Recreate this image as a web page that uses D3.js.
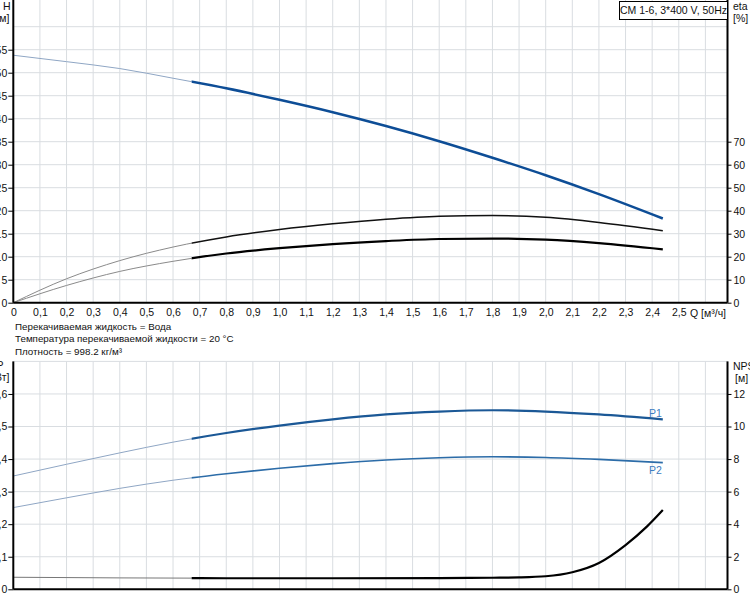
<!DOCTYPE html>
<html>
<head>
<meta charset="utf-8">
<script src="https://cdn.jsdelivr.net/npm/d3@7"></script>
<style>
body { margin: 0; background: #fff; }
svg { display: block; font-family: "Liberation Sans", Arial, sans-serif; }
.grid line { stroke: #d9dde1; stroke-width: 1; }
.ax path, .ax line { stroke: #000; }
.ax path { stroke-width: 2; }
.ax text { font-size: 10.5px; fill: #111; }
</style>
</head>
<body>
<svg id="chart" width="750" height="600"></svg>
<script>
// values
var flowQ = [0, 0.2, 0.4, 0.6, 0.8, 1.0, 1.2, 1.4, 1.6, 1.8, 2.0, 2.2, 2.44];
var headH = [53.8, 52.4, 50.9, 48.8, 46.6, 44.1, 41.4, 38.4, 35.1, 31.5, 27.7, 23.6, 18.3];
var etaPump = [0, 10.4, 18.3, 24.2, 28.6, 31.8, 34.3, 36.3, 37.6, 37.9, 37.1, 34.9, 31.3];
var etaTotal = [0, 7.5, 13.6, 18.0, 21.4, 23.7, 25.5, 26.8, 27.7, 27.9, 27.4, 25.9, 23.2];
var powerP1 = [0.348, 0.384, 0.419, 0.452, 0.480, 0.503, 0.522, 0.537, 0.546, 0.550, 0.546, 0.537, 0.522];
var powerP2 = [0.251, 0.281, 0.310, 0.335, 0.355, 0.372, 0.386, 0.397, 0.404, 0.407, 0.405, 0.399, 0.389];
var npshQ = [0, 0.4, 0.8, 1.2, 1.6, 1.8, 1.9, 2.0, 2.1, 2.2, 2.3, 2.38, 2.44];
var npshM = [0.74, 0.70, 0.68, 0.68, 0.69, 0.71, 0.73, 0.80, 1.05, 1.62, 2.72, 3.85, 4.87];
var qTicks = [0, 0.1, 0.2, 0.3, 0.4, 0.5, 0.6, 0.7, 0.8, 0.9, 1.0, 1.1, 1.2, 1.3, 1.4, 1.5, 1.6, 1.7, 1.8, 1.9, 2.0, 2.1, 2.2, 2.3, 2.4, 2.5];
var qGrid = qTicks.concat([2.6]);
var hTicks = [0, 5, 10, 15, 20, 25, 30, 35, 40, 45, 50, 55];
var hGrid = hTicks.concat([60]);
var etaTicks = [0, 10, 20, 30, 40, 50, 60, 70];
var pTicks = [0, 0.1, 0.2, 0.3, 0.4, 0.5, 0.6];
var pGrid = pTicks.concat([0.7]);
var npshTicks = [0, 2, 4, 6, 8, 10, 12];
var dutyStart = 0.67;
var title = "CM 1-6, 3*400 V, 50Hz";
var notes = ["Перекачиваемая жидкость = Вода", "Температура перекачиваемой жидкости = 20 °C", "Плотность = 998.2 кг/м³"];

var svg = d3.select('#chart');
svg.append('rect').attr('width', 750).attr('height', 600).attr('fill', '#fff');

var left = 13.3, right = 727.5;
var x = d3.scaleLinear().domain([0, 2.683]).range([left, right]);
var yH = d3.scaleLinear().domain([0, 60]).range([302.7, 26.7]);
var yEta = d3.scaleLinear().domain([0, 120]).range([302.7, 26.7]);
var yP = d3.scaleLinear().domain([0, 0.7]).range([589.3, 361.4]);
var yN = d3.scaleLinear().domain([0, 14]).range([589.3, 361.4]);
var comma = function (d) { return d === 0 ? '0' : d3.format('.1f')(d).replace('.', ','); };

// grids
function grid(y, vals, top, bottom) {
    var g = svg.append('g').attr('class', 'grid');
    g.selectAll('.v').data(qGrid.slice(1)).enter().append('line')
        .attr('x1', function (d) { return x(d); }).attr('x2', function (d) { return x(d); })
        .attr('y1', top).attr('y2', bottom);
    g.selectAll('.h').data(vals.slice(1)).enter().append('line')
        .attr('x1', left).attr('x2', right)
        .attr('y1', function (d) { return y(d); }).attr('y2', function (d) { return y(d); });
}
grid(yH, hGrid, 0, 302.7);
grid(yP, pGrid, 361.4, 589.3);

// clip paths for thin / thick parts
var defs = svg.append('defs');
defs.append('clipPath').attr('id', 'thin').append('rect')
    .attr('x', 0).attr('y', 0).attr('width', x(dutyStart)).attr('height', 600);
defs.append('clipPath').attr('id', 'thick').append('rect')
    .attr('x', x(dutyStart)).attr('y', 0).attr('width', 750).attr('height', 600);

function curve(qs, vs, y, thinColor, color, width) {
    var pts = qs.map(function (q, i) { return [q, vs[i]]; });
    var line = d3.line().x(function (d) { return x(d[0]); }).y(function (d) { return y(d[1]); })
        .curve(d3.curveMonotoneX);
    svg.append('path').datum(pts).attr('d', line).attr('fill', 'none')
        .attr('stroke', thinColor).attr('stroke-width', 1).attr('clip-path', 'url(#thin)');
    svg.append('path').datum(pts).attr('d', line).attr('fill', 'none')
        .attr('stroke', color).attr('stroke-width', width).attr('clip-path', 'url(#thick)');
}
curve(flowQ, headH, yH, '#8fa6c4', '#0d4d96', 2.5);
curve(flowQ, etaPump, yEta, '#8a8a8a', '#111', 1.5);
curve(flowQ, etaTotal, yEta, '#8a8a8a', '#000', 2.2);
curve(flowQ, powerP1, yP, '#8fa6c4', '#1b5896', 2.2);
curve(flowQ, powerP2, yP, '#8fa6c4', '#2c6ca8', 1.6);
curve(npshQ, npshM, yN, '#777', '#000', 2.2);

// axes
var ax;
ax = svg.append('g').attr('class', 'ax').attr('transform', 'translate(0,302.7)')
    .call(d3.axisBottom(x).tickValues(qTicks).tickFormat(comma).tickSize(0).tickPadding(6));
ax.select('.domain').attr('d', 'M' + left + ',0H' + right);
ax = svg.append('g').attr('class', 'ax').attr('transform', 'translate(' + left + ',0)')
    .call(d3.axisLeft(yH).tickValues(hTicks).tickSize(5).tickPadding(1));
ax.select('.domain').attr('d', 'M0,0V302.7');
ax = svg.append('g').attr('class', 'ax').attr('transform', 'translate(' + right + ',0)')
    .call(d3.axisRight(yEta).tickValues(etaTicks).tickSize(4).tickPadding(2));
ax.select('.domain').attr('d', 'M0,0V302.7');

ax = svg.append('g').attr('class', 'ax').attr('transform', 'translate(0,589.3)')
    .call(d3.axisBottom(x).tickValues([]).tickSize(0));
ax.select('.domain').attr('d', 'M' + left + ',0H' + right);
ax = svg.append('g').attr('class', 'ax').attr('transform', 'translate(' + left + ',0)')
    .call(d3.axisLeft(yP).tickValues(pTicks).tickFormat(comma).tickSize(5).tickPadding(1));
ax.select('.domain').attr('d', 'M0,361.4V589.3');
ax = svg.append('g').attr('class', 'ax').attr('transform', 'translate(' + right + ',0)')
    .call(d3.axisRight(yN).tickValues(npshTicks).tickSize(4).tickPadding(2));
ax.select('.domain').attr('d', 'M0,361.4V589.3');

// axis titles
function txt(s, tx, ty, anchor, color, size) {
    svg.append('text').text(s).attr('x', tx).attr('y', ty).attr('text-anchor', anchor || 'start')
        .attr('font-size', size || '10.5px').attr('fill', color || '#111');
}
txt('H', 3, 10);
txt('[м]', 9.5, 22, 'end');
txt('eta', 733, 10);
txt('[%]', 733, 22);
txt('Q [м³/ч]', 690, 317);
txt('P', 3.5, 369, 'end');
txt('[кВт]', 9.5, 381, 'end');
txt('NPSH', 733, 370);
txt('[м]', 735, 382);
txt('P1', 649, 417, 'start', '#3d7cc0');
txt('P2', 649, 474, 'start', '#3d7cc0');

notes.forEach(function (s, i) { txt(s, 15, 329.5 + i * 12.5, 'start', '#111', '9.8px'); });

// title box
svg.append('rect').attr('x', 619.5).attr('y', 1.5).attr('width', 108).attr('height', 18)
    .attr('fill', '#fff').attr('stroke', '#000');
txt(title, 673.5, 14, 'middle');
</script>
</body>
</html>
